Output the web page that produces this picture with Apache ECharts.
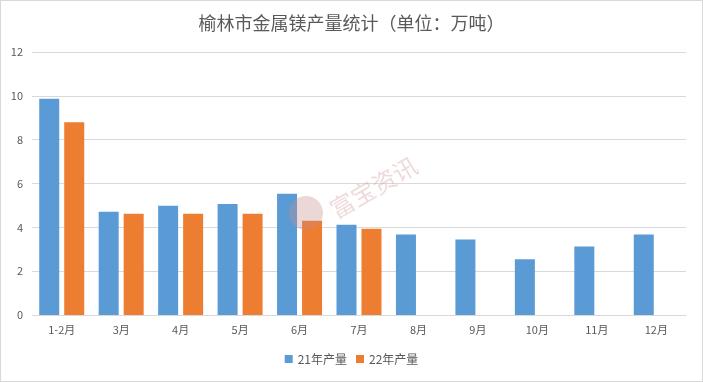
<!DOCTYPE html>
<html><head><meta charset="utf-8">
<script src="https://cdn.jsdelivr.net/npm/echarts@6/dist/echarts.min.js"></script>
<style>html,body{margin:0;padding:0;background:#fff;}#c{width:703px;height:382px;box-sizing:border-box;border:1px solid #d9d9d9;}</style>
</head><body><div id="c"></div>
<script>
const categories = ['1-2月','3月','4月','5月','6月','7月','8月','9月','10月','11月','12月'];
const s21 = [9.87, 4.71, 4.98, 5.07, 5.53, 4.12, 3.67, 3.44, 2.54, 3.12, 3.67];
const s22 = [8.79, 4.62, 4.62, 4.62, 4.30, 3.94, null, null, null, null, null];
const yTicks = [0, 2, 4, 6, 8, 10, 12];
const chart = echarts.init(document.getElementById('c'));
const font = '"Microsoft YaHei","Noto Sans CJK SC",sans-serif';
chart.setOption({
  animation: false,
  backgroundColor: '#fff',
  title: { text: '榆林市金属镁产量统计（单位：万吨）', left: 'center', top: 8,
    textStyle: { fontSize: 18, fontWeight: 'normal', color: '#595959', fontFamily: font } },
  legend: { bottom: 11, left: 'center', itemWidth: 8, itemHeight: 8, itemGap: 9,
    icon: 'rect', textStyle: { fontSize: 12, color: '#595959', fontFamily: font } },
  grid: { left: 31, right: 16, top: 51, bottom: 66, containLabel: false },
  xAxis: { type: 'category', data: categories,
    axisLine: { lineStyle: { color: '#d9d9d9' } }, axisTick: { show: false },
    axisLabel: { color: '#595959', fontSize: 11, margin: 9, fontFamily: font } },
  yAxis: { type: 'value', min: yTicks[0], max: yTicks[yTicks.length-1], interval: 2,
    axisLine: { show: false }, axisTick: { show: false },
    splitLine: { lineStyle: { color: '#d9d9d9' } },
    axisLabel: { color: '#595959', fontSize: 11, margin: 9, fontFamily: font } },
  series: [
    { name: '21年产量', type: 'bar', data: s21, barWidth: 20, barGap: '25%', itemStyle: { color: '#5B9BD5' } },
    { name: '22年产量', type: 'bar', data: s22, barWidth: 20, barGap: '25%', itemStyle: { color: '#ED7D31' } }
  ],
  graphic: [
    { type: 'circle', shape: { cx: 305, cy: 212, r: 17 }, style: { fill: 'rgba(200,140,140,0.35)' }, z: 100 },
    { type: 'text', x: 325, y: 200, rotation: Math.PI / 6, style: { text: '富宝资讯', fontSize: 24,
      fill: 'rgba(210,150,150,0.35)', fontFamily: font }, originX: 0, originY: 0, z: 100 }
  ]
});
</script></body></html>
